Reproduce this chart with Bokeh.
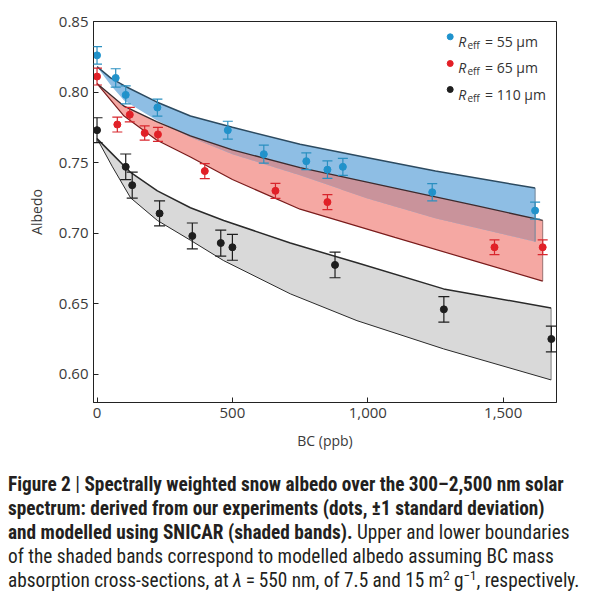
import numpy as np
from bokeh.plotting import figure
from bokeh.models import (ColumnDataSource, Whisker, TeeHead, Range1d,
                          NumeralTickFormatter, FixedTicker, Label, Div)
from bokeh.layouts import column
from bokeh.embed import file_html
from bokeh.resources import INLINE

# ---------------- measured albedo (dots, +-1 sd) ----------------
blue_bc = [0, 69, 106, 223, 483, 616, 773, 851, 908, 1238, 1618]
blue_alb = [0.826, 0.810, 0.798, 0.789, 0.773, 0.756, 0.751, 0.745, 0.747, 0.729, 0.716]
blue_err = [0.0062, 0.0065, 0.0064, 0.0060, 0.0063, 0.0064, 0.0059, 0.0062, 0.0060, 0.0061, 0.0060]

red_bc = [0, 75, 121, 176, 225, 398, 659, 851, 1468, 1646]
red_alb = [0.811, 0.777, 0.784, 0.771, 0.770, 0.744, 0.730, 0.722, 0.690, 0.690]
red_err = [0.0060, 0.0053, 0.0051, 0.0050, 0.0050, 0.0053, 0.0053, 0.0053, 0.0052, 0.0052]

black_bc = [0, 106, 130, 231, 352, 457, 500, 879, 1281, 1678]
black_alb = [0.773, 0.747, 0.734, 0.714, 0.698, 0.693, 0.690, 0.6775, 0.646, 0.625]
black_err = [0.0088, 0.0091, 0.0092, 0.0089, 0.0092, 0.0092, 0.0092, 0.0091, 0.0091, 0.0091]

# ---------------- SNICAR modelled bands ----------------
blue_band_bc = [0, 50, 100, 220, 345, 500, 750, 1000, 1250, 1618]
blue_band_upper = [0.818, 0.810, 0.8045, 0.793, 0.783, 0.775, 0.763, 0.7535, 0.744, 0.732]
blue_band_lower = [0.818, 0.805, 0.794, 0.780, 0.768, 0.756, 0.741, 0.7245, 0.7105, 0.694]

red_band_bc = [0, 100, 220, 345, 500, 750, 1100, 1400, 1646]
red_band_upper = [0.806, 0.790, 0.779, 0.769, 0.759, 0.7465, 0.732, 0.7195, 0.709]
red_band_lower = [0.806, 0.783, 0.766, 0.754, 0.738, 0.717, 0.697, 0.680, 0.666]

black_band_bc = [0, 57, 124, 223, 345, 468, 714, 960, 1280, 1677]
black_band_upper = [0.767, 0.756, 0.743, 0.730, 0.718, 0.709, 0.693, 0.679, 0.6605, 0.647]
black_band_lower = [0.767, 0.747, 0.725, 0.709, 0.695, 0.6805, 0.657, 0.638, 0.618, 0.596]

x_ticks = [0, 500, 1000, 1500]
y_ticks = [0.60, 0.65, 0.70, 0.75, 0.80, 0.85]
legend_radii = ["55", "65", "110"]

# ---------------- styling ----------------
BLUE_FILL, RED_FILL, MAUVE, GRAY_FILL = "#8ebee4", "#f5a8a3", "#c9939b", "#d9d9d9"
BLUE_DOT, RED_DOT, BLACK_DOT = "#1f93cd", "#e31f26", "#1e1e1e"
BLUE_LINE, RED_UP_LINE, RED_LO_LINE, BLACK_LINE = "#2c4a60", "#3d2b2e", "#7a1c1c", "#2a2a2a"
FONT = "Open Sans"
TXT = "#3a3a3a"

FW, FH = 463, 381
X0, X1 = -13, 1697
Y0, Y1 = 0.58, 0.85

p = figure(frame_width=FW, frame_height=FH,
           x_range=Range1d(X0, X1), y_range=Range1d(Y0, Y1),
           output_backend="svg", toolbar_location=None,
           min_border_left=93, min_border_right=36,
           min_border_top=21, min_border_bottom=46)
p.xgrid.visible = False
p.ygrid.visible = False
p.outline_line_color = "#222"
p.outline_line_width = 1
p.background_fill_color = "white"
p.border_fill_color = "white"

for ax in (p.xaxis[0], p.yaxis[0]):
    ax.major_tick_in = 5
    ax.major_tick_out = 0
    ax.minor_tick_in = 0
    ax.minor_tick_out = 0
    ax.axis_line_color = "#222"
    ax.major_tick_line_color = "#222"
    ax.major_label_text_font = FONT
    ax.major_label_text_font_size = "15px"
    ax.major_label_text_color = TXT
    ax.major_label_standoff = 5
    ax.axis_label_text_font = FONT
    ax.axis_label_text_font_size = "14px"
    ax.axis_label_text_font_style = "normal"
    ax.axis_label_text_color = TXT
    ax.axis_label_standoff = 10
p.xaxis.ticker = FixedTicker(ticks=x_ticks)
p.xaxis.formatter = NumeralTickFormatter(format="0,0")
p.yaxis.ticker = FixedTicker(ticks=y_ticks)
p.yaxis.formatter = NumeralTickFormatter(format="0.00")
p.xaxis.axis_label = "BC (ppb)"
p.yaxis.axis_label = "Albedo"

# ---------------- bands ----------------
p.varea(x=red_band_bc, y1=red_band_lower, y2=red_band_upper, fill_color=RED_FILL)
p.varea(x=blue_band_bc, y1=blue_band_lower, y2=blue_band_upper, fill_color=BLUE_FILL)
p.varea(x=black_band_bc, y1=black_band_lower, y2=black_band_upper, fill_color=GRAY_FILL)

# overlap of blue and red bands
xs = np.linspace(0, min(blue_band_bc[-1], red_band_bc[-1]), 300)
bu = np.interp(xs, blue_band_bc, blue_band_upper)
bl = np.interp(xs, blue_band_bc, blue_band_lower)
ru = np.interp(xs, red_band_bc, red_band_upper)
rl = np.interp(xs, red_band_bc, red_band_lower)
top = np.minimum(bu, ru)
bot = np.minimum(np.maximum(bl, rl), top)
p.varea(x=xs, y1=bot, y2=top, fill_color=MAUVE)

# band edges
p.segment(x0=[red_band_bc[-1]], y0=[red_band_lower[-1]], x1=[red_band_bc[-1]], y1=[red_band_upper[-1]],
          line_color="#9a7070", line_width=1)
p.segment(x0=[blue_band_bc[-1]], y0=[blue_band_lower[-1]], x1=[blue_band_bc[-1]], y1=[blue_band_upper[-1]],
          line_color="#6f8599", line_width=1)
p.segment(x0=[black_band_bc[-1]], y0=[black_band_lower[-1]], x1=[black_band_bc[-1]], y1=[black_band_upper[-1]],
          line_color="#808080", line_width=1)
p.line(red_band_bc, red_band_lower, line_color=RED_LO_LINE, line_width=1.2)
p.line(red_band_bc, red_band_upper, line_color=RED_UP_LINE, line_width=1.3)
p.line(blue_band_bc, blue_band_upper, line_color=BLUE_LINE, line_width=1.5)
p.line(black_band_bc, black_band_upper, line_color=BLACK_LINE, line_width=1.5)
p.line(black_band_bc, black_band_lower, line_color=BLACK_LINE, line_width=1.0)

# ---------------- measured dots with error bars ----------------
def series(bc, alb, err, color, bar_color, cap):
    alb = np.array(alb)
    err = np.array(err)
    src = ColumnDataSource(dict(x=bc, y=alb, upper=alb + err, lower=alb - err))
    w = Whisker(source=src, base="x", upper="upper", lower="lower",
                line_color=bar_color, line_width=1.2, level="overlay",
                upper_head=TeeHead(size=cap, line_color=bar_color, line_width=1.2),
                lower_head=TeeHead(size=cap, line_color=bar_color, line_width=1.2))
    p.add_layout(w)
    p.scatter("x", "y", source=src, size=7, fill_color=color, line_color=color)

series(blue_bc, blue_alb, blue_err, BLUE_DOT, "#2a8fc0", 10)
series(red_bc, red_alb, red_err, RED_DOT, "#d8262d", 10)
series(black_bc, black_alb, black_err, BLACK_DOT, "#1e1e1e", 11)

# ---------------- legend ----------------
sx = (X1 - X0) / FW
sy = (Y1 - Y0) / FH
marker_rows = [15.3, 42.0, 68.0]
leg_colors = [BLUE_DOT, RED_DOT, BLACK_DOT]
p.scatter(x=[X1 - 106.3 * sx] * 3, y=[Y1 - r * sy for r in marker_rows],
          size=6, fill_color=leg_colors, line_color=leg_colors)
for i, rad in enumerate(legend_radii):
    base = 20 + 26.4 * i
    p.add_layout(Label(x=X1, y=Y1, x_offset=-98.3, y_offset=-base, text="R",
                       text_font=FONT, text_font_style="italic", text_font_size="14px",
                       text_color="#333", text_baseline="alphabetic"))
    p.add_layout(Label(x=X1, y=Y1, x_offset=-89.0, y_offset=-(base + 3.5), text="eff",
                       text_font=FONT, text_font_size="10px",
                       text_color="#333", text_baseline="alphabetic"))
    p.add_layout(Label(x=X1, y=Y1, x_offset=-71.5, y_offset=-base, text=f"= {rad} μm",
                       text_font=FONT, text_font_size="14px",
                       text_color="#333", text_baseline="alphabetic"))

# ---------------- caption ----------------
sup = "<sup style=\"font-size:13px;line-height:0;vertical-align:7px;\">"
caption = (
    "<div style=\"font-family:'Roboto Condensed',sans-serif;font-size:19.3px;"
    "line-height:24px;color:#231f20;white-space:nowrap;padding-top:21px;padding-left:8px;\">"
    "<b>Figure 2</b> <span style=\"font-weight:normal\">|</span> "
    "<b>Spectrally weighted snow albedo over the 300–2,500 nm solar</b><br>"
    "<b>spectrum: derived from our experiments (dots, ±1 standard deviation)</b><br>"
    "<b>and modelled using SNICAR (shaded bands).</b> Upper and lower boundaries<br>"
    "of the shaded bands correspond to modelled albedo assuming BC mass<br>"
    "absorption cross-sections, at <i>λ</i>&#8201;=&#8201;550 nm, of 7.5 and 15 m" + sup + "2</sup> g"
    + sup + "−1</sup>, respectively."
    "</div>"
)
div = Div(text=caption, width=592, height=148, margin=(0, 0, 0, 0))

layout = column(p, div, spacing=0)
open("out.html", "w").write(file_html(layout, INLINE))
